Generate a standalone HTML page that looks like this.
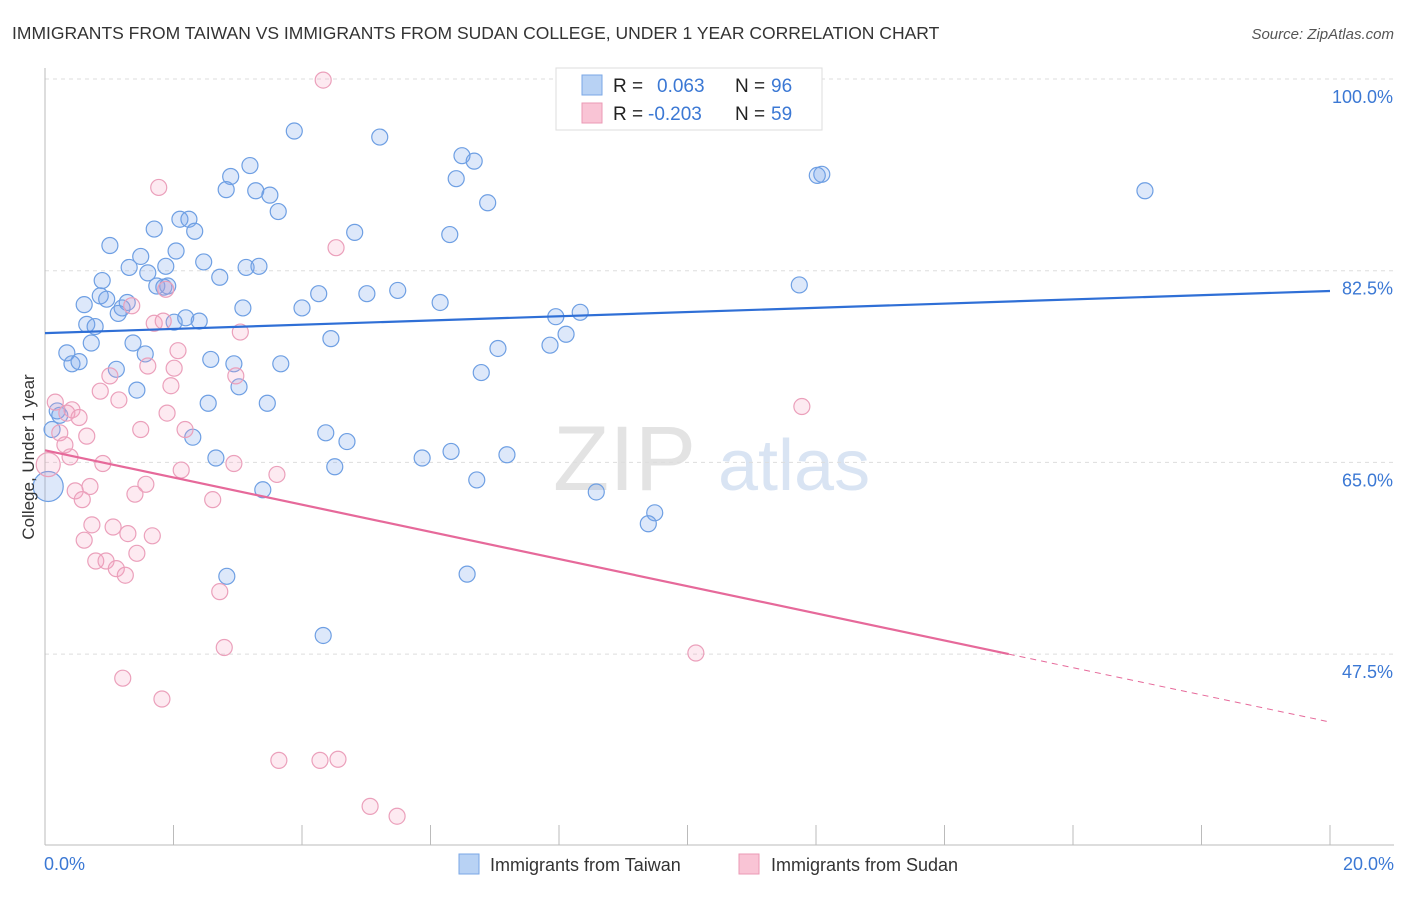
<!DOCTYPE html>
<html><head><meta charset="utf-8"><style>
body{margin:0;background:#fff;font-family:"Liberation Sans",sans-serif;}
svg text{font-family:"Liberation Sans",sans-serif;}
</style></head><body>
<svg id="chart" width="1406" height="892" xmlns="http://www.w3.org/2000/svg">
<text x="12" y="39" font-size="17.5" fill="#333">IMMIGRANTS FROM TAIWAN VS IMMIGRANTS FROM SUDAN COLLEGE, UNDER 1 YEAR CORRELATION CHART</text>
<text x="1394" y="39" font-size="15" fill="#555" text-anchor="end" font-style="italic">Source: ZipAtlas.com</text>
<g>
<text x="553" y="490" font-size="92" fill="#ddd" font-family="Liberation Serif" opacity="0.8">ZIP</text>
<text x="718" y="490" font-size="72" fill="#c9d9ef" opacity="0.7">atlas</text>
</g>
<g id="grid"></g>
<g id="axes"></g>
<g id="marks"></g>
<text transform="translate(34,457) rotate(-90)" font-size="17" fill="#333" text-anchor="middle">College, Under 1 year</text>
<g>
<rect x="556" y="68" width="266" height="62" fill="#fff" stroke="#ddd"/>
<rect x="582" y="75" width="20" height="20" fill="#b8d2f4" stroke="#7aa7e6"/>
<rect x="582" y="103" width="20" height="20" fill="#f9c4d5" stroke="#eb9ab5"/>
<text x="613" y="92" font-size="19" fill="#222">R =</text><text x="657" y="92" font-size="19" fill="#3b78d4">0.063</text>
<text x="735" y="92" font-size="19" fill="#222">N =</text><text x="771" y="92" font-size="19" fill="#3b78d4">96</text>
<text x="613" y="120" font-size="19" fill="#222">R =</text><text x="648" y="120" font-size="19" fill="#3b78d4">-0.203</text>
<text x="735" y="120" font-size="19" fill="#222">N =</text><text x="771" y="120" font-size="19" fill="#3b78d4">59</text>
</g>
<g>
<rect x="459" y="854" width="20" height="20" fill="#b8d2f4" stroke="#7aa7e6"/>
<text x="490" y="871" font-size="18" fill="#333">Immigrants from Taiwan</text>
<rect x="739" y="854" width="20" height="20" fill="#f9c4d5" stroke="#eb9ab5"/>
<text x="771" y="871" font-size="18" fill="#333">Immigrants from Sudan</text>
</g>
</svg>
<script>
const xTicks=[0,20];
const yTicks=[47.5,65.0,82.5,100.0];
const taiwanX=[3.88,5.21,6.49,6.68,3.19,2.89,6.40,2.82,3.28,3.50,6.89,3.63,2.10,2.24,2.33,1.70,4.82,6.30,1.01,2.04,1.49,2.47,1.31,1.88,3.13,3.33,1.60,2.72,0.89,1.74,1.85,1.91,4.26,5.01,5.49,6.15,0.86,0.96,0.61,1.28,1.20,3.08,4.00,1.14,2.19,2.40,0.65,2.01,0.78,7.95,8.33,8.11,4.45,0.72,1.37,7.05,7.86,1.56,0.34,2.58,2.94,3.67,0.42,0.53,1.11,6.79,3.02,1.43,2.54,3.46,0.19,0.23,2.30,4.37,4.70,2.66,5.87,6.32,7.19,4.51,6.72,3.39,8.58,9.49,9.39,6.57,2.83,4.33,12.09,12.02,11.74,17.12,0.11,0.05];
const taiwanY=[95.25,94.7,93.0,92.5,92.1,91.1,90.9,89.9,89.8,89.4,88.7,87.9,87.2,87.2,86.1,86.3,86.0,85.8,84.8,84.3,83.8,83.3,82.8,82.9,82.8,82.9,82.3,81.9,81.6,81.1,81.0,81.1,80.4,80.4,80.7,79.6,80.2,79.9,79.4,79.6,79.1,79.1,79.1,78.6,78.2,77.9,77.6,77.8,77.4,78.3,78.7,76.7,76.3,75.9,75.9,75.4,75.7,74.9,75.0,74.4,74.0,74.0,74.0,74.2,73.5,73.2,71.9,71.6,70.4,70.4,69.7,69.3,67.3,67.7,66.9,65.4,65.4,66.0,65.7,64.6,63.4,62.5,62.3,60.4,59.4,54.8,54.6,49.2,91.3,91.2,81.2,89.8,68.0,62.8];
const taiwanR=taiwanX.map((v,i)=>i===taiwanX.length-1?15:8);
const sudanX=[4.33,1.77,4.53,1.88,1.35,3.04,1.70,1.84,2.07,1.60,2.01,2.97,1.01,1.96,0.86,1.15,1.90,0.16,0.42,0.34,0.53,1.49,2.18,0.23,0.65,0.31,0.39,0.90,2.12,2.94,3.61,0.70,1.57,0.47,1.40,2.61,0.58,0.73,1.06,1.29,1.67,0.61,1.43,0.79,0.95,1.11,1.25,2.72,2.79,1.21,1.82,3.64,4.28,4.56,5.06,5.48,11.78,10.13,0.05];
const sudanY=[99.9,90.1,84.6,80.8,79.3,76.9,77.7,77.9,75.2,73.8,73.6,72.9,72.9,72.0,71.5,70.7,69.5,70.5,69.8,69.5,69.1,68.0,68.0,67.7,67.4,66.6,65.5,64.9,64.3,64.9,63.9,62.8,63.0,62.4,62.1,61.6,61.6,59.3,59.1,58.5,58.3,57.9,56.7,56.0,56.0,55.3,54.7,53.2,48.1,45.3,43.4,37.8,37.8,37.9,33.6,32.7,70.1,47.6,64.8];
const sudanR=sudanX.map((v,i)=>i===sudanX.length-1?12:8);
const taiwanTrend=[76.8,80.65];
const sudanTrend=[66.1,41.3];
const sudanSolidEnd=15.0;

const X0=45,X1=1330,Y0=845,Ytop=79;
const xs=v=>X0+(v-0)/20*(X1-X0);
const ys=v=>Ytop+(100-v)/17.5*191.7;
const NS='http://www.w3.org/2000/svg';
function mk(tag,attrs,parent){const e=document.createElementNS(NS,tag);for(const k in attrs)e.setAttribute(k,attrs[k]);parent.appendChild(e);return e;}
const grid=document.getElementById('grid'),axes=document.getElementById('axes'),marks=document.getElementById('marks');
yTicks.forEach(t=>{
 const l=mk('line',{x1:X0,x2:1394,y1:ys(t),y2:ys(t),stroke:'#ddd','stroke-dasharray':'4,4'},grid);
 
 
 const tx=mk('text',{x:1393,y:ys(t)+24,'font-size':18,fill:'#3b78d4','text-anchor':'end'},axes);
 tx.textContent=t.toFixed(1)+'%';
 
 
});
const ax=mk('line',{x1:X0,x2:X0,y1:68,y2:Y0,stroke:'#bbb'},axes);


const bx=mk('line',{x1:X0,x2:1394,y1:Y0,y2:Y0,stroke:'#bbb'},axes);


for(let i=0;i<=10;i++){const v=i*2;const t=mk('line',{x1:xs(v),x2:xs(v),y1:Y0,y2:Y0-20,stroke:'#bbb'},axes);
 
 }
xTicks.forEach((t,i)=>{const tx=mk('text',{x:i===0?44:1394,y:870,'font-size':18,fill:'#3b78d4','text-anchor':i===0?'start':'end'},axes);
 tx.textContent=t.toFixed(1)+'%';
 
 });
taiwanX.forEach((v,i)=>{const c=mk('circle',{cx:xs(v),cy:ys(taiwanY[i]),r:taiwanR[i],fill:'rgba(120,165,235,0.25)',stroke:'#6e9fe3','stroke-width':1.2},marks);
 
 });
sudanX.forEach((v,i)=>{const c=mk('circle',{cx:xs(v),cy:ys(sudanY[i]),r:sudanR[i],fill:'rgba(245,160,190,0.22)',stroke:'#eba0bb','stroke-width':1.2},marks);
 
 });
const bl=mk('line',{x1:xs(0),y1:ys(taiwanTrend[0]),x2:xs(20),y2:ys(taiwanTrend[1]),stroke:'#2f6fd6','stroke-width':2.2},marks);


const sAt=v=>sudanTrend[0]+(sudanTrend[1]-sudanTrend[0])*v/20;
const pl=mk('line',{x1:xs(0),y1:ys(sAt(0)),x2:xs(sudanSolidEnd),y2:ys(sAt(sudanSolidEnd)),stroke:'#e6699a','stroke-width':2.2},marks);


const pd=mk('line',{x1:xs(sudanSolidEnd),y1:ys(sAt(sudanSolidEnd)),x2:xs(20),y2:ys(sAt(20)),stroke:'#e6699a','stroke-width':1,'stroke-dasharray':'6,5'},marks);


</script>
</body></html>
